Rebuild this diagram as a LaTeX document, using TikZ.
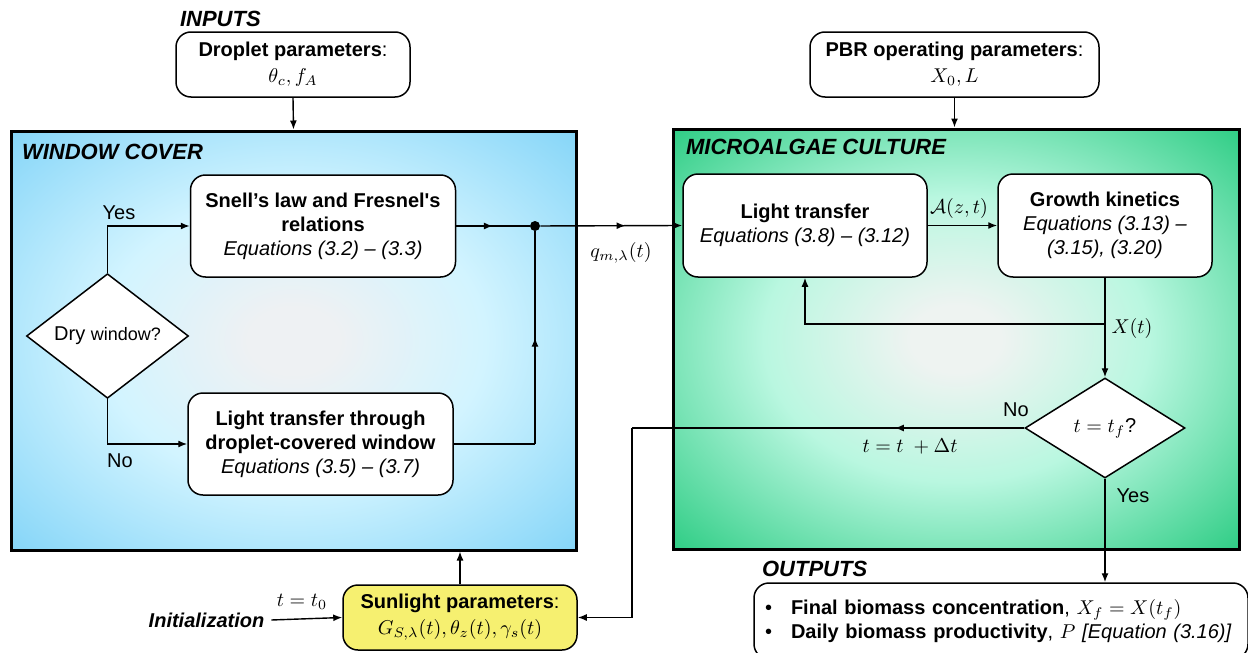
\documentclass[tikz,border=0pt]{standalone}
\usepackage{fontspec}
\setmainfont{Liberation Sans}
\usetikzlibrary{arrows.meta, positioning, shapes.geometric, calc, decorations.markings}
\definecolor{WinMid}{RGB}{238,241,243}
\definecolor{WinRing}{RGB}{210,244,255}
\definecolor{WinEdge}{RGB}{135,214,248}
\definecolor{WinCorner}{RGB}{105,200,245}
\definecolor{AlgMid}{RGB}{238,243,241}
\definecolor{AlgRing}{RGB}{185,247,224}
\definecolor{AlgEdge}{RGB}{50,206,135}
\definecolor{AlgCorner}{RGB}{0,190,100}
\definecolor{SunYellow}{RGB}{246,240,112}
\pgfdeclareradialshading{WinShade}{\pgfpoint{0bp}{0bp}}{color(0bp)=(WinMid); color(4bp)=(WinMid); color(17bp)=(WinRing); color(35bp)=(WinEdge); color(50bp)=(WinCorner)}
\pgfdeclareradialshading{AlgShade}{\pgfpoint{0bp}{0bp}}{color(0bp)=(AlgMid); color(4bp)=(AlgMid); color(17bp)=(AlgRing); color(35bp)=(AlgEdge); color(50bp)=(AlgCorner)}

\begin{document}
\begin{tikzpicture}[x=0.5pt, y=-0.5pt,
  every node/.style={font=\fontsize{10}{12}\selectfont},
  box/.style={draw, rounded corners=7.5pt, fill=white, line width=0.75pt, align=center, inner sep=2pt},
  panel/.style={draw, line width=1.5pt, inner sep=0pt, shade},
  decision/.style={draw, diamond, fill=white, line width=0.75pt, inner sep=0pt},
  title/.style={anchor=west, font=\fontsize{11}{13}\selectfont\bfseries\itshape},
  link/.style={line width=0.7pt},
  arr/.style={link, -{Latex[length=4.5pt, width=3.5pt]}},
  midarr/.style={link, decoration={markings, mark=at position #1 with {\arrow{Latex[length=4.5pt, width=3.5pt]}}}, postaction={decorate}},
  dot/.style={circle, fill, inner sep=0pt, minimum size=5pt}]
  \clip (0,0) rectangle (1248,653);

  % panels
  \node[panel, shading=WinShade, minimum width=282.5pt, minimum height=209.5pt] (win) at (293.5,340.5) {};
  \node[panel, shading=AlgShade, minimum width=283pt, minimum height=210pt] (alg) at (956,339) {};
  \node[title] (tin) at (173,19) {INPUTS};
  \node[title] (twin) at (15,152) {WINDOW COVER};
  \node[title] (talg) at (679,147) {MICROALGAE CULTURE};
  \node[title] (tout) at (755,569) {OUTPUTS};

  % inputs
  \node[box, minimum width=117pt, minimum height=32.5pt] (drop) at (293,64.5) {\textbf{Droplet parameters}:\\[1pt] $\theta_c, f_A$};
  \node[box, minimum width=144.5pt, minimum height=32.5pt] (pbr) at (954.5,64.5) {\textbf{PBR operating parameters}:\\[1pt] $X_0, L$};
  \node[box, fill=SunYellow, minimum width=117pt, minimum height=32.5pt] (sun) at (460,617.5) {\textbf{Sunlight parameters}:\\[1pt] $G_{S,\lambda}(t), \theta_z(t), \gamma_s(t)$};
  \node[font=\fontsize{10}{12}\selectfont\bfseries\itshape] (init) at (206.5,620) {Initialization};

  % window cover
  \node[decision, minimum width=81pt, minimum height=49.5pt] (dry) at (107.5,336) {Dry {\fontsize{9}{11}\selectfont window?}};
  \node[box, minimum width=132.5pt, minimum height=51pt] (snell) at (323,226) {\textbf{Snell’s law and Fresnel\textquotesingle s}\\ \textbf{relations}\\ \textit{Equations (3.2) – (3.3)}};
  \node[box, minimum width=132.5pt, minimum height=51pt] (thru) at (320.5,444) {\textbf{Light transfer through}\\ \textbf{droplet-covered window}\\ \textit{Equations (3.5) – (3.7)}};
  \node[dot] (jn) at (535,226) {};

  % microalgae culture
  \node[box, minimum width=122pt, minimum height=51.5pt] (lt) at (805,225.5) {\textbf{Light transfer}\\ \textit{Equations (3.8) – (3.12)}};
  \node[box, minimum width=107pt, minimum height=51.5pt] (gk) at (1105,225.5) {\textbf{Growth kinetics}\\ \textit{Equations (3.13) –}\\ \textit{(3.15), (3.20)}};
  \node[decision, minimum width=80pt, minimum height=50pt] (tf) at (1105,428) {$t = t_f$?};
  \coordinate (loop) at (1105,324);
  \coordinate (back) at (632,428);

  % outputs
  \node[box, align=left, minimum height=38pt, text width=236pt, inner xsep=5.5pt] (outs) at (1001,621) {\mbox{\textbullet\hspace{9.5pt}\textbf{Final biomass concentration}, $X_f = X(t_f)$}\\ \mbox{\textbullet\hspace{9.5pt}\textbf{Daily biomass productivity}, $P$ \textit{[Equation (3.16)]}}};

  % connectors
  \draw[arr] (drop.south) -- (win.north);
  \draw[arr] (pbr.south) -- (pbr.south |- alg.north);
  \draw[arr] (sun.north) -- (sun.north |- win.south);
  \draw[arr] (init.east) -- (sun.west);
  \draw[arr] (dry.north) |- (snell.west);
  \draw[arr] (dry.south) |- (thru.west);
  \draw[midarr=0.5] (snell.east) -- (jn);
  \draw[link] (thru.east) -- (thru.east -| jn);
  \draw[midarr=0.5] (thru.east -| jn) -- (jn);
  \draw[arr, midarr=0.6] (jn) -- (lt.west);
  \draw[arr] (lt.east) -- (gk.west);
  \draw[arr] (gk.south) -- (loop) -| (lt.south);
  \draw[arr] (loop) -- (tf.north);
  \draw[arr] (tf.south) -- (tf.south |- outs.north);
  \draw[midarr=0.33] (tf.west) -- (back);
  \draw[arr] (back) |- (sun.east);

  % labels
  \node (yes1) at (119,213) {Yes};
  \node (no1) at (120,461) {No};
  \node (qlab) at (621,253) {$q_{m,\lambda}(t)$};
  \node (alab) at (959,208) {$\mathcal{A}(z,t)$};
  \node (xlab) at (1132,328) {$X(t)$};
  \node (no2) at (1016,410) {No};
  \node (yes2) at (1133,496) {Yes};
  \node (dlab) at (910,446) {$t = t\ + \Delta t$};
  \node (t0lab) at (302,602) {$t = t_0$};
\end{tikzpicture}
\end{document}
